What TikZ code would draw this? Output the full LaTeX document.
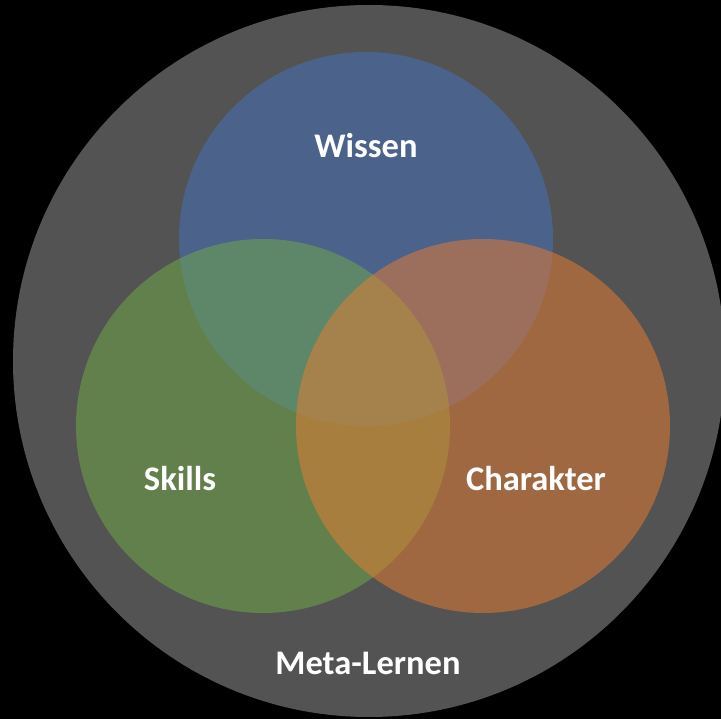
\documentclass[tikz,border=0pt]{standalone}
\usepackage{fontspec}
\setmainfont{Carlito}
\usepackage{tikz}
\usetikzlibrary{positioning}
\definecolor{hgrund}{HTML}{000000}
\definecolor{mgrau}{HTML}{535353}
\definecolor{wblau}{HTML}{4472C4}
\definecolor{sgruen}{HTML}{70AD47}
\definecolor{korange}{HTML}{ED7D31}
\tikzstyle{kreis} = [circle, draw=none, inner sep=0pt, fill opacity=0.5, minimum size=374pt]
\tikzstyle{metakreis} = [circle, draw=none, inner sep=0pt, fill=mgrau, minimum size=712pt]
\tikzstyle{etikett} = [text=white, font=\fontsize{34.5}{40}\selectfont\bfseries, inner sep=0pt]

\begin{document}
\begin{tikzpicture}[x=1pt, y=-1pt]
	\fill[hgrund] (0,0) rectangle (721,719);
	\useasboundingbox (0,0) rectangle (721,719);
	\node[metakreis] (meta) at (369,361) {};
	\node[kreis, fill=wblau] (wissen) at (366,239) {};
	\node[kreis, fill=sgruen] (skills) at (263,426) {};
	\node[kreis, fill=korange] (charakter) at (483,426) {};
	\node[etikett] (lwissen) at (366,146) {Wissen};
	\node[etikett] (lskills) at (180,479) {Skills};
	\node[etikett] (lcharakter) at (536,479) {Charakter};
	\node[etikett] (lmeta) at (368,663) {Meta-Lernen};
\end{tikzpicture}
\end{document}
